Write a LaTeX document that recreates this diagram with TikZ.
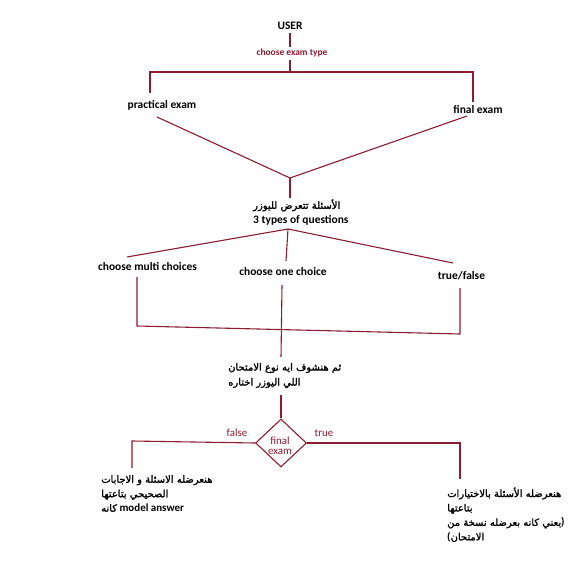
\documentclass[tikz,border=0pt]{standalone}
\usepackage{fontspec}
\setmainfont{Carlito}
\newfontfamily\arabicfont[Script=Arabic, BoldFont={DejaVu Sans}, BoldFeatures={FakeBold=1.5}]{DejaVu Sans}
\TeXXeTstate=1
\usetikzlibrary{shapes.geometric,positioning}
\definecolor{flowred}{RGB}{139,29,50}
\newcommand{\arabtext}[1]{{\arabicfont\fontsize{10}{14.5}\selectfont\beginR #1\endR}}
\tikzset{
  line/.style={draw=flowred, line width=1.1bp},
  txt/.style={font=\bfseries\fontsize{11.5}{15}\selectfont, inner sep=0pt, align=left},
  redtxt/.style={font=\bfseries\fontsize{9.5}{11}\selectfont, text=flowred, inner sep=0pt},
  redlabel/.style={font=\fontsize{11}{9.5}\selectfont, text=flowred, inner sep=0pt},
  decision/.style={diamond, draw=flowred, line width=1.1bp, aspect=1.06,
    minimum width=51bp, minimum height=48bp, inner sep=0pt, align=center},
}

\begin{document}
\begin{tikzpicture}[x=1bp,y=-1bp]

      \fill[white] (0,0) rectangle (585,583);

      % exam type
      \node[txt] (user) at (290,26) {USER};
      \node[redtxt] (examtype) at (292,53) {choose exam type};
      \node[txt] (practical) at (162,105) {practical exam};
      \node[txt] (final) at (478,110) {final exam};
      \coordinate (userEnd) at (290,33); \coordinate (typeTop) at (290,47);
      \coordinate (typeEnd) at (290,60); \coordinate (fork) at (290,72);
      \coordinate (forkL) at (150,72); \coordinate (forkR) at (473,72);
      \coordinate (pracTop) at (150,93); \coordinate (finTop) at (473,102);
      \draw[line] (userEnd) -- (typeTop);
      \draw[line] (typeEnd) -- (fork);
      \draw[line] (pracTop) -- (forkL) -- (forkR) -- (finTop);

      % questions
      \coordinate (pracEnd) at (157,117); \coordinate (finEnd) at (467,116);
      \coordinate (meet) at (290,178); \coordinate (meetEnd) at (290,198);
      \draw[line] (pracEnd) -- (meet) -- (finEnd);
      \draw[line] (meet) -- (meetEnd);
      \node[txt, anchor=west] (shown) at (253,212.5) {\arabtext{الأسئلة تتعرض لليوزر}\\ 3 types of questions};

      \node[txt] (multi) at (147.5,267) {choose multi choices};
      \node[txt] (one) at (283,272) {choose one choice};
      \node[txt] (truefalse) at (461.5,276) {true/false};
      \coordinate (apex) at (288,229);
      \coordinate (multiTop) at (127,257); \coordinate (oneTop) at (286,261); \coordinate (tfTop) at (453,263);
      \draw[line] (multiTop) -- (apex) -- (tfTop);
      \draw[line] (apex) -- (oneTop);

      % join
      \coordinate (multiEnd) at (137,277); \coordinate (joinL) at (137,326);
      \coordinate (tfEnd) at (460,288); \coordinate (joinR) at (460,334);
      \coordinate (oneEnd) at (282,285); \coordinate (joinOut) at (281,357);
      \draw[line] (multiEnd) -- (joinL) -- (joinR) -- (tfEnd);
      \draw[line] (oneEnd) -- (joinOut);

      % decision
      \node[txt, anchor=west] (check) at (228,375.5) {\arabtext{ثم هنشوف ايه نوع الامتحان}\\ \arabtext{اللي اليوزر اختاره}};
      \node[decision] (dec) at (281,443) {};
      \node[redlabel, align=center] (decText) at (280,445.5) {final\\exam};
      \coordinate (checkEnd) at (281,395);
      \draw[line] (checkEnd) -- (dec.north);

      \node[redlabel] (falseLbl) at (237,433) {false};
      \node[redlabel] (trueLbl) at (324,433) {true};
      \coordinate (falseCorner) at (132,441); \coordinate (falseEnd) at (132,468);
      \coordinate (trueCorner) at (460,443); \coordinate (trueEnd) at (460,479);
      \draw[line] (dec.west) -- (falseCorner) -- (falseEnd);
      \draw[line] (dec.east) -- (trueCorner) -- (trueEnd);

      % results
      \node[txt, anchor=west, font=\bfseries\fontsize{11}{14.5}\selectfont] (practicalShow) at (101,493.5)
        {\arabtext{هنعرضله الاسئلة و الاجابات}\\ \arabtext{الصحيحي بتاعتها}\\ \arabtext{كانه} model answer};
      \node[txt, anchor=west, font=\bfseries\fontsize{11}{14.5}\selectfont] (finalShow) at (447,514.75)
        {\arabtext{هنعرضله الأسئلة بالاختيارات}\\ \arabtext{بتاعتها}\\ \arabtext{يعني كانه بعرضله نسخة من})\\ (\arabtext{الامتحان}};

    \end{tikzpicture}
\end{document}
